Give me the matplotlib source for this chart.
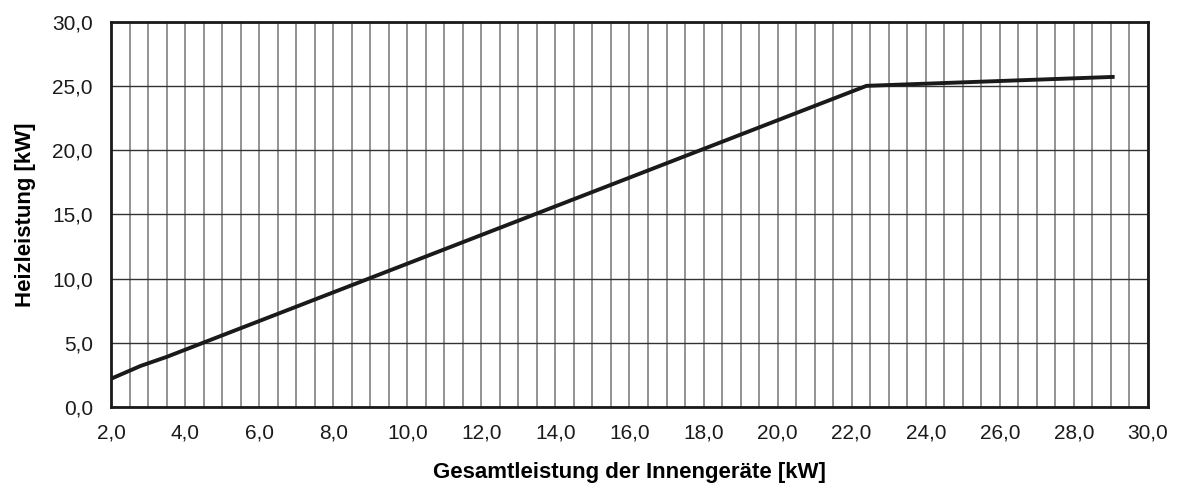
import numpy as np
import matplotlib
matplotlib.use('Agg')
import matplotlib.pyplot as plt
from matplotlib.ticker import MultipleLocator, FuncFormatter

plt.rcParams['font.family'] = ['Liberation Sans', 'DejaVu Sans']

# Gesamtleistung der Innengeraete [kW] vs Heizleistung [kW]
gesamt = [2.0, 2.8, 3.5, 22.4, 29.1]
heiz = [2.2, 3.2, 3.9, 25.0, 25.7]

fig = plt.figure(figsize=(11.82, 4.91), dpi=100)
ax = fig.add_axes([0.0939, 0.171, 0.8773, 0.785])

ax.set_xlim(2, 30)
ax.set_ylim(0, 30)
ax.xaxis.set_major_locator(MultipleLocator(2))
ax.xaxis.set_minor_locator(MultipleLocator(0.5))
ax.yaxis.set_major_locator(MultipleLocator(5))
fmt = FuncFormatter(lambda v, p: ('%.1f' % v).replace('.', ','))
ax.xaxis.set_major_formatter(fmt)
ax.yaxis.set_major_formatter(fmt)

ax.grid(which='both', axis='x', color='#808080', lw=1.2)
ax.grid(which='major', axis='y', color='#333333', lw=1.0)
ax.set_axisbelow(True)

ax.plot(gesamt, heiz, color='#1a1a1a', lw=2.8, solid_capstyle='butt')

for s in ax.spines.values():
    s.set_linewidth(2)
    s.set_color('#1a1a1a')
ax.tick_params(which='both', length=0, labelsize=15, colors='#1a1a1a')
ax.tick_params(axis='x', pad=12)
ax.tick_params(axis='y', pad=13)

ax.set_xlabel('Gesamtleistung der Innengeräte [kW]', fontsize=16, fontweight='bold', labelpad=14)
ax.set_ylabel('Heizleistung [kW]', fontsize=16, fontweight='bold', labelpad=12)

fig.savefig('out.png', dpi=100)
